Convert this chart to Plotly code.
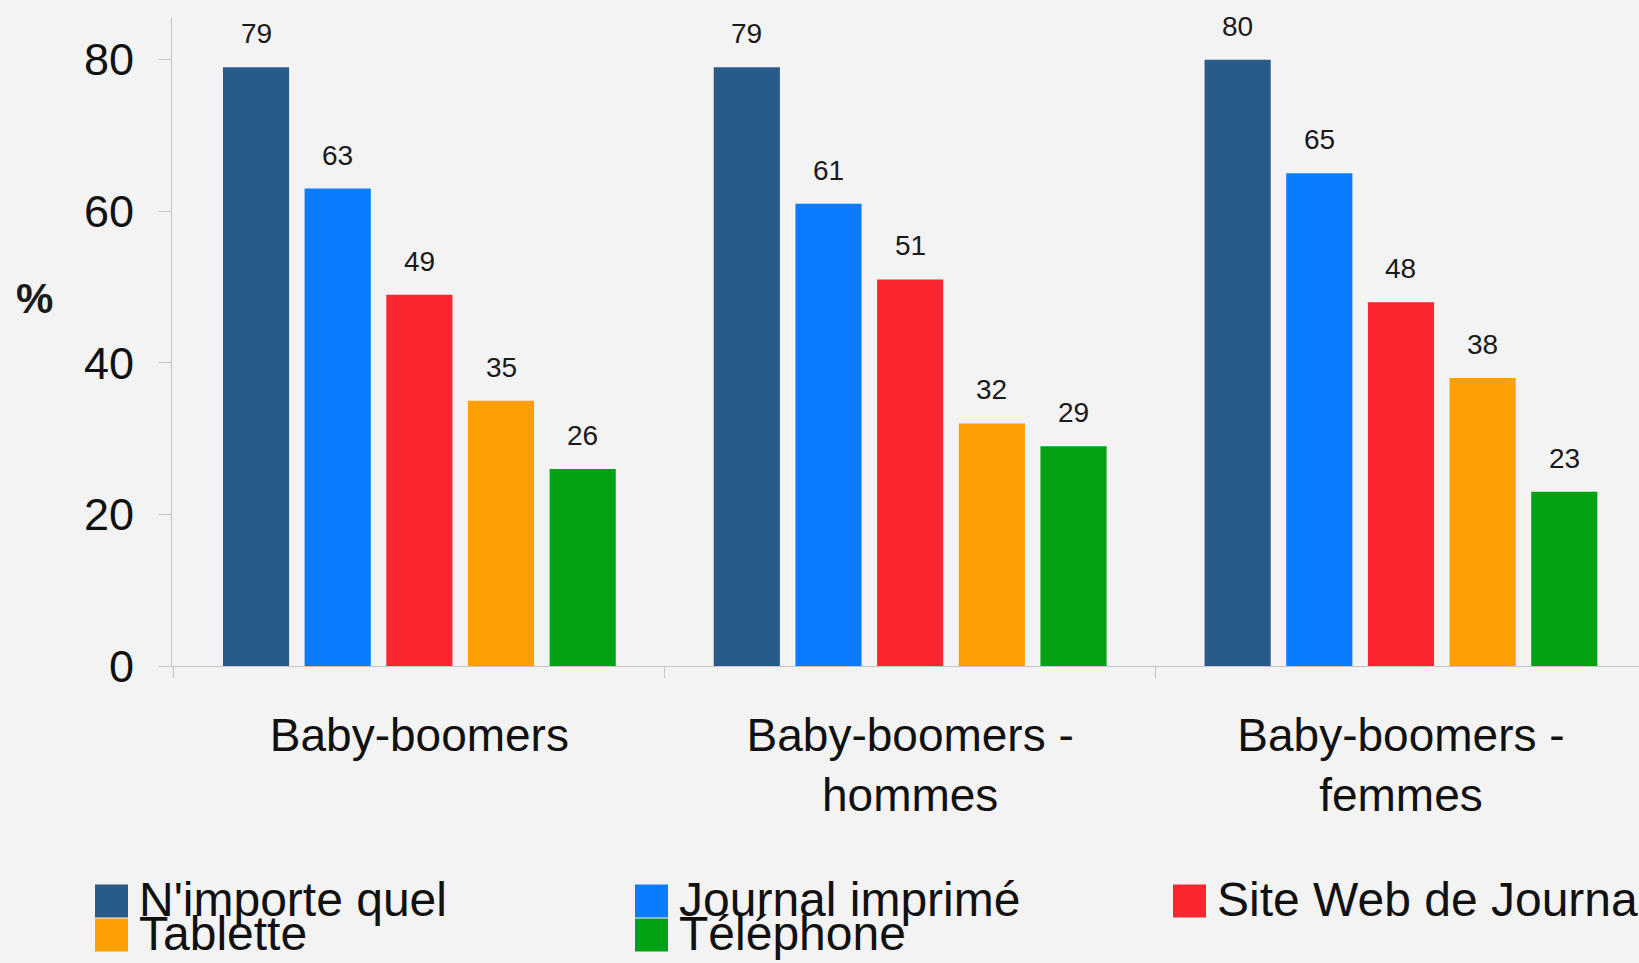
import plotly.graph_objects as go

# --- data ---------------------------------------------------------------
categories = ["Baby-boomers", "Baby-boomers -<br>hommes", "Baby-boomers -<br>femmes"]
series_names = ["N'importe quel", "Journal imprimé", "Site Web de Journal", "Tablette", "Téléphone"]
any_format = [79, 79, 80]
print_paper = [63, 61, 65]
news_site = [49, 51, 48]
tablet = [35, 32, 38]
phone = [26, 29, 23]
series_values = [any_format, print_paper, news_site, tablet, phone]
y_ticks = [0, 20, 40, 60, 80]

# --- style ----------------------------------------------------------------
colors = ["#285B8A", "#0A7CFD", "#FB2630", "#FDA003", "#03A215"]
FONT = "Arial, 'Liberation Sans', sans-serif"
BG = "#f3f3f3"
AXIS_GREY = "#c4c4c4"

W, H = 1639, 963
M_L, M_R, M_T, M_B = 172, 0, 18, 297
PLOT_W = W - M_L - M_R
PLOT_H = H - M_T - M_B
X_RANGE = [-0.504, 2.485]
Y_RANGE = [0, 85.5]
BARGAP = 0.168
BARGROUPGAP = 0.19

cat_px = PLOT_W / (X_RANGE[1] - X_RANGE[0])
slot_px = cat_px * (1 - BARGAP) / len(series_names)


def px_to_paper_x(px):
    return (px - M_L) / PLOT_W


def px_to_paper_y(py):
    return (H - M_B - py) / PLOT_H


fig = go.Figure()

for name, vals, col in zip(series_names, series_values, colors):
    fig.add_trace(go.Bar(
        name=name,
        x=categories,
        y=vals,
        marker=dict(color=col, line=dict(width=0)),
        showlegend=False,
        hoverinfo="x+y+name",
    ))

annotations = []

# value labels above each bar
n = len(series_names)
for j, (vals, name) in enumerate(zip(series_values, series_names)):
    for cat, v in zip(categories, vals):
        annotations.append(dict(
            x=cat, y=v, xref="x", yref="y",
            text=str(v), showarrow=False,
            xanchor="center", yanchor="bottom",
            xshift=(j - (n - 1) / 2) * slot_px, yshift=16,
            font=dict(family=FONT, size=28, color="#1a1a1a"),
        ))

# horizontal "%" axis label
annotations.append(dict(
    x=px_to_paper_x(34), y=px_to_paper_y(298), xref="paper", yref="paper",
    text="<b>%</b>", showarrow=False, xanchor="center", yanchor="middle",
    font=dict(family=FONT, size=42, color="#1a1a1a"),
))

# legend: three columns, two rows of colour boxes and names
shapes = []
col_left = [95, 635, 1173]
row_center = [901, 935]
box_w, box_h = 33, 33
for i, (name, col) in enumerate(zip(series_names, colors)):
    c, r = i % 3, i // 3
    x0 = col_left[c]
    yc = row_center[r]
    shapes.append(dict(
        type="rect", xref="paper", yref="paper",
        x0=px_to_paper_x(x0), x1=px_to_paper_x(x0 + box_w),
        y0=px_to_paper_y(yc + box_h / 2), y1=px_to_paper_y(yc - box_h / 2),
        fillcolor=col, line=dict(width=0), layer="above",
    ))
    annotations.append(dict(
        x=px_to_paper_x(x0 + box_w + 9), y=px_to_paper_y(yc - 2),
        xref="paper", yref="paper", text=name, showarrow=False,
        xanchor="left", yanchor="middle",
        font=dict(family=FONT, size=48, color="#111111"),
    ))

fig.update_layout(
    width=W, height=H,
    margin=dict(l=M_L, r=M_R, t=M_T, b=M_B, pad=0),
    paper_bgcolor=BG, plot_bgcolor=BG,
    barmode="group", bargap=BARGAP, bargroupgap=BARGROUPGAP,
    font=dict(family=FONT, color="#111111"),
    showlegend=False,
    annotations=annotations,
    shapes=shapes,
    xaxis=dict(
        range=X_RANGE, type="category",
        showline=True, linecolor=AXIS_GREY, linewidth=1,
        ticks="outside", tickson="boundaries", ticklen=11, tickcolor=AXIS_GREY,
        showgrid=False, zeroline=False,
        tickfont=dict(family=FONT, size=46, color="#111111"),
        ticklabelstandoff=29,
    ),
    yaxis=dict(
        range=Y_RANGE, tickvals=y_ticks,
        showline=True, linecolor=AXIS_GREY, linewidth=1,
        ticks="outside", ticklen=12, tickcolor=AXIS_GREY,
        showgrid=False, zeroline=False,
        tickfont=dict(family=FONT, size=45, color="#111111"),
        ticklabelstandoff=16,
    ),
)

fig.write_html("out.html")
